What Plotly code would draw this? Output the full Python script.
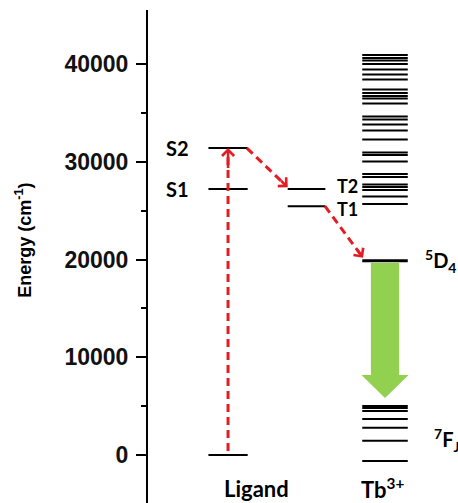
import plotly.graph_objects as go

# ---- data (energies in cm^-1) ----
ligand_levels = {"S0": 0, "S1": 27200, "S2": 31400}
triplet_levels = {"T1": 25450, "T2": 27200}
tb_upper_levels = [40920, 40610, 40360, 40000, 39440, 38930, 38410, 37390, 37030,
                   36730, 36470, 35960, 34630, 34320, 33810, 33200, 32280, 30950,
                   30690, 30030, 28750, 28440, 27670, 27420, 27110, 26450, 25680]
tb_5d4 = 19880
tb_7f_levels = [5010, 4810, 4500, 3680, 2790, 1460, -610]
green_arrow_end = 5830
green_arrow_head = 2350

yticks = [0, 10000, 20000, 30000, 40000]
yminor = [5000, 15000, 25000, 35000]
yrange = [-4910, 45524]

# column positions (x units)
col_lig, col_trip, col_tb = 1.0, 2.0, 3.0
hw_lig, hw_trip, hw_tb = 0.25, 0.24, 0.29

red = "rgb(226,30,36)"
green = "#92D050"
lab_font = dict(family="Lato", size=20, color="black", weight="bold")

fig = go.Figure()


def levels(xc, hw, ens, width=2):
    xs, ys = [], []
    for e in ens:
        xs += [xc - hw, xc + hw, None]
        ys += [e, e, None]
    fig.add_trace(go.Scatter(x=xs, y=ys, mode="lines",
                             line=dict(color="black", width=width),
                             hoverinfo="skip", showlegend=False))


levels(col_lig, hw_lig, list(ligand_levels.values()))
levels(col_trip, hw_trip, list(triplet_levels.values()))
levels(col_tb, hw_tb, tb_upper_levels, width=1.9)
levels(col_tb, hw_tb, tb_7f_levels, width=2)

# green emission arrow
bw, hwid = 0.18, 0.30
top = tb_5d4 - 250
hb = green_arrow_end + green_arrow_head
gx = [col_tb - bw, col_tb + bw, col_tb + bw, col_tb + hwid, col_tb,
      col_tb - hwid, col_tb - bw, col_tb - bw]
gy = [top, top, hb, hb, green_arrow_end, hb, hb, top]
fig.add_trace(go.Scatter(x=gx, y=gy, mode="lines", fill="toself",
                         fillcolor=green, line=dict(color=green, width=0),
                         hoverinfo="skip", showlegend=False))

levels(col_tb, hw_tb, [tb_5d4], width=3)

# red dashed transfer arrows
arrows = [
    ((col_lig, ligand_levels["S0"]), (col_lig, ligand_levels["S2"])),
    ((col_lig + hw_lig - 0.01, ligand_levels["S2"]),
     (col_trip - hw_trip, triplet_levels["T2"] + 200)),
    ((col_trip + hw_trip - 0.005, triplet_levels["T1"]),
     (col_tb - hw_tb + 0.01, tb_5d4 + 300)),
]
for (x0, y0), (x1, y1) in arrows:
    f = 0.93 if abs(y1 - y0) > 20000 else 0.8
    fig.add_trace(go.Scatter(x=[x0, x0 + (x1 - x0) * 0.97],
                             y=[y0 + 400 * (y0 == 0), y0 + (y1 - y0) * 0.97],
                             mode="lines",
                             line=dict(color=red, width=3, dash="8px,5px"),
                             hoverinfo="skip", showlegend=False))
    fig.add_annotation(x=x1, y=y1, ax=x0 + (x1 - x0) * f, ay=y0 + (y1 - y0) * f,
                       xref="x", yref="y", axref="x", ayref="y", text="",
                       showarrow=True, arrowhead=4, arrowsize=0.9,
                       arrowwidth=2.6, arrowcolor=red)

# labels
def lab(x, y, t, anchor="center", size=20, yshift=0):
    fig.add_annotation(x=x, y=y, xref="x", yref="y", text=t, showarrow=False,
                       xanchor=anchor, yanchor="middle", yshift=yshift,
                       font=dict(lab_font, size=size))

lab(0.35, ligand_levels["S2"], "S2")
lab(0.35, ligand_levels["S1"], "S1")
lab(2.52, triplet_levels["T2"], "T2", size=18, yshift=3)
lab(2.52, triplet_levels["T1"], "T1", size=18, yshift=-3)
lab(3.48, tb_5d4, "<sup>5</sup>D<sub>4</sub>", anchor="left", size=20)
lab(3.60, 1500, "<sup>7</sup>F<sub>J</sub>", anchor="left", size=20)
lab(1.36, -3650, "Ligand", size=22, yshift=2)
lab(2.97, -3650, "Tb<sup>3+</sup>", size=22, yshift=2)

fig.add_annotation(x=-0.4, y=0.533, xref="paper", yref="paper", xshift=-14,
                   text="Energy (cm<sup>-1</sup>)", textangle=-90, showarrow=False,
                   font=dict(family="Liberation Sans", size=18, color="black", weight="bold"))

fig.update_layout(
    width=458, height=503, margin=dict(l=148, r=0, t=10, b=0),
    plot_bgcolor="white", paper_bgcolor="white",
    xaxis=dict(visible=False, range=[-0.02, 3.93], fixedrange=True),
    yaxis=dict(range=yrange, tickvals=yticks, ticktext=[str(v) for v in yticks],
               showgrid=False, zeroline=False, showline=True, linecolor="black",
               linewidth=2, ticks="outside", ticklen=10, tickwidth=2,
               tickcolor="black", ticklabelstandoff=3,
               tickfont=dict(family="Liberation Sans", size=23, color="#111111", weight="bold"),
               minor=dict(tickvals=yminor, ticks="outside",
                          ticklen=5, tickwidth=2, tickcolor="black"),
               fixedrange=True),
)

fig.write_html("out.html")
